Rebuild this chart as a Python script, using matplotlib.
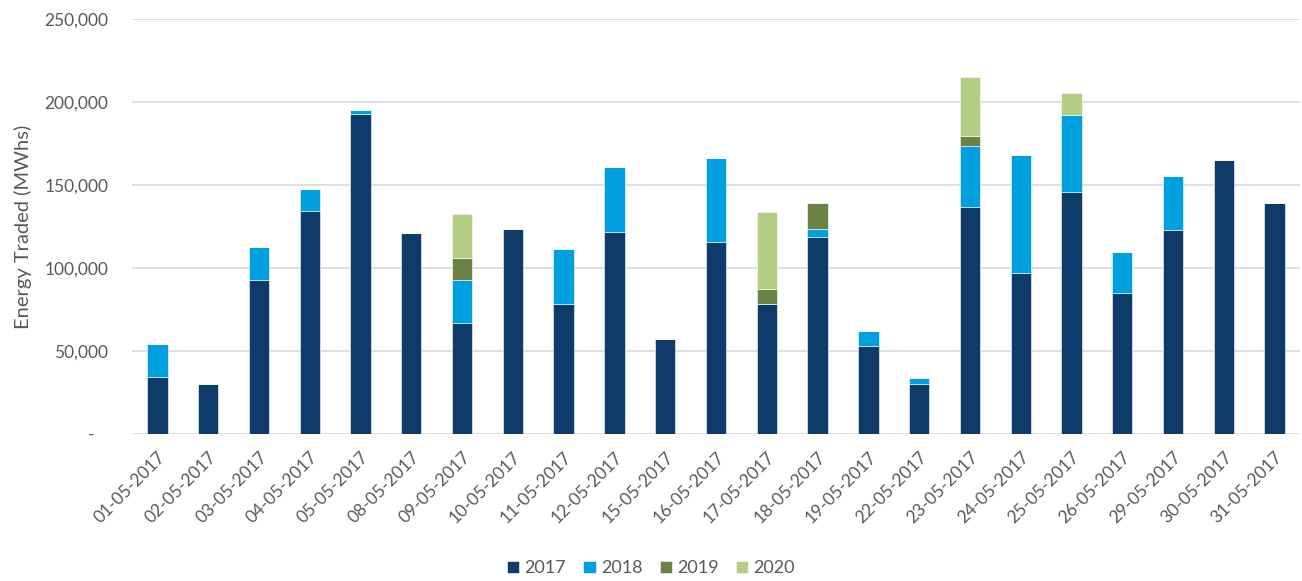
import matplotlib
matplotlib.use("Agg")
import matplotlib.pyplot as plt
import numpy as np
from matplotlib.ticker import FuncFormatter

dates = ["01-05-2017", "02-05-2017", "03-05-2017", "04-05-2017", "05-05-2017",
         "08-05-2017", "09-05-2017", "10-05-2017", "11-05-2017", "12-05-2017",
         "15-05-2017", "16-05-2017", "17-05-2017", "18-05-2017", "19-05-2017",
         "22-05-2017", "23-05-2017", "24-05-2017", "25-05-2017", "26-05-2017",
         "29-05-2017", "30-05-2017", "31-05-2017"]
v2017 = [34500, 30100, 92900, 134500, 192900, 121300, 66700, 123300, 78500, 121500,
         57400, 115900, 78500, 118900, 53000, 30300, 136900, 97200, 146000, 85100,
         123100, 165100, 139300]
v2018 = [19900, 0, 19700, 13100, 2300, 0, 26100, 0, 32900, 39300,
         0, 50400, 0, 4400, 8800, 3400, 36400, 70700, 46200, 24300,
         32500, 0, 0]
v2019 = [0, 0, 0, 0, 0, 0, 13200, 0, 0, 0,
         0, 0, 8800, 16000, 0, 0, 6200, 0, 0, 0,
         0, 0, 0]
v2020 = [0, 0, 0, 0, 0, 0, 26500, 0, 0, 0,
         0, 0, 46400, 0, 0, 0, 35600, 0, 13000, 0,
         0, 0, 0]
series_names = ["2017", "2018", "2019", "2020"]
colors = ["#0F3B6B", "#009FDF", "#6A8244", "#B3CD85"]

plt.rcParams['font.family'] = ['Lato', 'DejaVu Sans']

fig = plt.figure(figsize=(13.02, 5.81), dpi=100)
ax = fig.add_axes([132/1302, 1-434/581, 1168/1302, 415/581])

x = np.arange(len(dates))
bottom = np.zeros(len(dates))
for name, vals, c in zip(series_names, [v2017, v2018, v2019, v2020], colors):
    vals = np.array(vals, dtype=float)
    ax.bar(x, vals, width=0.4, bottom=bottom, color=c, label=name,
           edgecolor="white", linewidth=0.4, zorder=3)
    bottom += vals

ax.set_xlim(-0.5, len(dates) - 0.5)
ax.set_ylim(0, 250000)
ax.set_yticks(np.arange(0, 250001, 50000))
ax.yaxis.set_major_formatter(FuncFormatter(lambda v, p: "-   " if v == 0 else f"{int(v):,}"))
ax.grid(axis="y", color="#D9D9D9", linewidth=1.2, zorder=0)
for s in ax.spines.values():
    s.set_visible(False)
ax.tick_params(axis="both", length=0, colors="#595959", labelsize=12.5)
ax.tick_params(axis="y", pad=17)
ax.set_xticks(x)
ax.set_xticklabels(dates, rotation=45, ha="right", rotation_mode="anchor")
ax.tick_params(axis="x", pad=11)
ax.set_ylabel("Energy Traded (MWhs)", fontsize=14.5, color="#595959", labelpad=9)

leg = fig.legend(loc="center", bbox_to_anchor=(0.5, 1 - 568/581), ncol=4,
                 frameon=False, fontsize=13, handlelength=0.67, handleheight=0.67,
                 columnspacing=0.95, handletextpad=0.3)
for t in leg.get_texts():
    t.set_color("#595959")

fig.savefig("out.png", dpi=100)
